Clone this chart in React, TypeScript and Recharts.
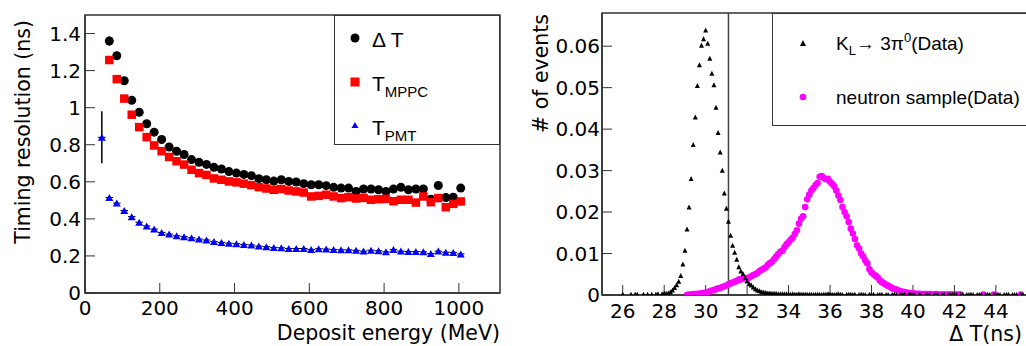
import React from "react";
import {
  ScatterChart,
  Scatter,
  XAxis,
  YAxis,
  ErrorBar,
  ReferenceArea,
  ReferenceLine,
  Legend,
  Label,
} from "recharts";

const FONT = "'Liberation Sans', Arial, Helvetica, sans-serif";
const AXIS_FONT = "'DejaVu Sans', 'Liberation Sans', Arial, sans-serif";

// left panel: timing resolution vs deposit energy, 20 MeV bins
const energies = [
  45, 65, 85, 105, 125, 145, 165, 185, 205, 225, 245, 265, 285, 305, 325, 345, 365, 385, 405, 425,
  445, 465, 485, 505, 525, 545, 565, 585, 605, 625, 645, 665, 685, 705, 725, 745, 765, 785, 805,
  825, 845, 865, 885, 905, 925, 945, 965, 985, 1005,
];
const dtRes = [
  null, 1.36, 1.28, 1.145, 1.04, 0.975, 0.913, 0.868, 0.828, 0.788, 0.765, 0.747, 0.72, 0.705, 0.694,
  0.678, 0.669, 0.655, 0.647, 0.64, 0.633, 0.617, 0.611, 0.604, 0.611, 0.602, 0.599, 0.59, 0.584,
  0.584, 0.579, 0.57, 0.566, 0.566, 0.548, 0.561, 0.561, 0.557, 0.548, 0.561, 0.57, 0.557, 0.561,
  0.561, 0.506, 0.58, 0.515, 0.517, 0.566,
];
const mppcRes = [
  null, 1.257, 1.154, 1.049, 0.962, 0.895, 0.841, 0.796, 0.765, 0.734, 0.711, 0.693, 0.665, 0.647,
  0.637, 0.618, 0.611, 0.602, 0.597, 0.59, 0.582, 0.571, 0.564, 0.557, 0.561, 0.553, 0.548, 0.542,
  0.521, 0.524, 0.53, 0.521, 0.512, 0.517, 0.51, 0.513, 0.503, 0.506, 0.508, 0.495, 0.503, 0.503,
  0.488, 0.521, 0.49, 0.512, 0.463, 0.481, 0.494,
];
const pmtRes = [
  0.84, 0.515, 0.485, 0.445, 0.412, 0.382, 0.362, 0.345, 0.327, 0.318, 0.309, 0.304, 0.298, 0.291,
  0.286, 0.278, 0.273, 0.269, 0.266, 0.262, 0.259, 0.253, 0.25, 0.246, 0.244, 0.24, 0.24, 0.24,
  0.235, 0.239, 0.237, 0.235, 0.233, 0.233, 0.23, 0.226, 0.231, 0.228, 0.222, 0.235, 0.226, 0.224,
  0.224, 0.222, 0.213, 0.226, 0.22, 0.219, 0.211,
];
// vertical errors of the first bins (later bins are hidden under the markers)
const dtErr = [0, 0.025, 0.015, 0.01];
const mppcErr = [0, 0.02, 0.012, 0.01];
const pmtErr = [0.14, 0.01, 0.008, 0.006];
const energyHalfBin = 10;

const xTicksL = [0, 200, 400, 600, 800, 1000];
const yTicksL = [0, 0.2, 0.4, 0.6, 0.8, 1, 1.2, 1.4];

// right panel: Delta T distributions, 0.1 ns bins
const binWidth = 0.1;
const klFirstBin = 25.0;
const klValues = [
  null, null, null, null, null, null, null, null, null, null,
  0.0002, null, null, null, 0.0002, null, 0.0002, 0.0002, null, null,
  0.0002, null, 0.0002, null, 0.0002, null, 0.0002, 0.0003, null, 0.0003,
  0.0004, 0.0004, 0.0005, 0.0008, 0.0012, 0.0018, 0.0025, 0.0033, 0.0047, 0.0075,
  0.0108, 0.0159, 0.0212, 0.0281, 0.0363, 0.0429, 0.0505, 0.0555, 0.0602, 0.0618,
  0.0639, 0.0607, 0.0571, 0.0535, 0.0507, 0.0453, 0.0392, 0.0345, 0.0301, 0.0246,
  0.0209, 0.0178, 0.0144, 0.012, 0.0103, 0.0086, 0.0068, 0.0058, 0.0052, 0.0042,
  0.0034, 0.0028, 0.0024, 0.0019, 0.0015, 0.0012, 0.001, 0.0008, 0.0007, 0.0006,
  0.0005, 0.0005, 0.0004, 0.0004, 0.0004, 0.0003, 0.0003, 0.0003, 0.0003, 0.0003,
  0.0003, 0.0002, 0.0003, 0.0002, 0.0002, 0.0003, 0.0002, 0.0002, 0.0002, 0.0002,
  0.0002, 0.0002, 0.0001, 0.0002, 0.0002, 0.0002, 0.0001, 0.0002, 0.0002, 0.0003,
  0.0002, 0.0002, 0.0001, 0.0002, 0.0003, 0.0002, 0.0001, null, 0.0002, 0.0002,
  0.0002, 0.0001, 0.0002, null, 0.0001, 0.0002, 0.0001, 0.0001, null, 0.0002,
  0.0001, 0.0002, null, 0.0001, 0.0001, 0.0002, null, 0.0001, 0.0001, null,
  0.0001, 0.0002, 0.0001, null, 0.0001, 0.0001, 0.0001, null, 0.0002, 0.0001,
  0.0001, 0.0001, null, 0.0002, 0.0001, null, 0.0001, 0.0001, 0.0001, null,
  0.0001, 0.0001, 0.0002, null, 0.0001, 0.0001, null, 0.0001, 0.0001, 0.0001,
  0.0002, 0.0001, null, 0.0001, 0.0001, null, 0.0001, 0.0001, 0.0002, 0.0001,
  null, 0.0001, 0.0001, 0.0001, null, 0.0001, 0.0002, 0.0001, null, 0.0001,
  0.0001, 0.0002, 0.0001, null, 0.0001, 0.0001, 0.0002, null, 0.0001, 0.0001,
  0.0001, null, 0.0001, 0.0001, null,
];
const neutronFirstBin = 29.0;
const neutronValues = [
  null, 0.0, 0.0001, 0.0001, 0.0002, 0.0002, 0.0003, 0.0003, 0.0004, 0.0005,
  0.0006, 0.0007, 0.0009, 0.0011, 0.0012, 0.0014, 0.0016, 0.0017, 0.0019, 0.0021,
  0.0023, 0.0026, 0.0028, 0.003, 0.0032, 0.0034, 0.0037, 0.0038, 0.0039, 0.004,
  0.0041, 0.0042, 0.0045, 0.0048, 0.005, 0.0053, 0.0058, 0.0061, 0.0064, 0.0067,
  0.0073, 0.0077, 0.008, 0.0086, 0.0093, 0.0099, 0.0104, 0.0107, 0.0115, 0.0122,
  0.0127, 0.0133, 0.0138, 0.0147, 0.0156, 0.0172, 0.0184, 0.019, 0.0212, 0.0231,
  0.0242, 0.0252, 0.0258, 0.0265, 0.027, 0.0285, 0.0287, 0.0282, 0.0279, 0.028,
  0.0273, 0.0268, 0.0262, 0.0252, 0.024, 0.0229, 0.0212, 0.02, 0.019, 0.0176,
  0.016, 0.0148, 0.0135, 0.012, 0.0112, 0.01, 0.0093, 0.0083, 0.0076, 0.0062,
  0.0054, 0.005, 0.0046, 0.0042, 0.0035, 0.0031, 0.0028, 0.0025, 0.0022, 0.002,
  0.0016, 0.0015, 0.0013, 0.0011, 0.0009, 0.0008, 0.0007, 0.0006, 0.0005, 0.0004,
  0.0004, 0.0003, 0.0003, 0.0003, 0.0002, 0.0002, 0.0002, 0.0002, 0.0002, 0.0001,
  0.0001, 0.0002, 0.0001, 0.0001, 0.0001, 0.0001, 0.0001, 0.0001, 0.0001, 0.0001,
  0.0001, 0.0001, 0.0001, 0.0001, null, null, null, null, null, null,
  null, null, null, null, 0.0001, null, null, null, null, 0.0001,
  null, null, null, null, null, null, null, null, null, null,
  null, null, 0.0001,
];
const cutLine = 31.1;

const xTicksR = [26, 28, 30, 32, 34, 36, 38, 40, 42, 44];
const yTicksR = [0, 0.01, 0.02, 0.03, 0.04, 0.05, 0.06];

// minor tick positions (axis decoration only)
const steps = (a: number, b: number, s: number) => {
  const out: number[] = [];
  for (let i = 0; a + i * s <= b + 1e-9; i++) out.push(+(a + i * s).toFixed(4));
  return out;
};
const xMinorL = steps(0, 1100, 50);
const yMinorL = steps(0, 1.5, 0.05);
const xMinorR = steps(25, 45.5, 0.5);
const yMinorR = steps(0, 0.068, 0.002);

const resRows = (vals: (number | null)[], errs: number[]) =>
  energies
    .map((e, i) => ({ e, v: vals[i], ex: energyHalfBin, ey: errs[i] ?? 0.004 }))
    .filter((d) => d.v != null);

const histRows = (first: number, vals: (number | null)[]) =>
  vals
    .map((v, i) => ({ t: +(first + i * binWidth).toFixed(2), v }))
    .filter((d) => d.v != null);

const circle = (r: number, fill: string) => (p: any) =>
  <circle cx={p.cx} cy={p.cy} r={r} fill={fill} />;
const square = (s: number, fill: string) => (p: any) =>
  <rect x={p.cx - s / 2} y={p.cy - s / 2} width={s} height={s} fill={fill} />;
const triangle = (w: number, h: number, fill: string) => (p: any) => (
  <polygon
    points={`${p.cx - w / 2},${p.cy + h / 2} ${p.cx + w / 2},${p.cy + h / 2} ${p.cx},${p.cy - h / 2}`}
    fill={fill}
  />
);

const axisStroke = "#333";
const tickFont = { fontSize: 20, fill: "#000", fontFamily: AXIS_FONT };
const titleSize = 20.5;

const LeftLegend = () => (
  <svg width={166} height={130} style={{ display: "block" }}>
    <rect x={0.5} y={0.5} width={165} height={129} fill="#fff" stroke={axisStroke} />
    <g fontFamily={FONT} fill="#000">
      <circle cx={21} cy={23} r={4.5} fill="#000" />
      <text x={38} y={32} fontSize={21}>Δ T</text>
      <rect x={16.5} y={62.5} width={9} height={9} fill="#ff0000" />
      <text x={38} y={76} fontSize={21}>
        T<tspan dy={6} fontSize={15}>MPPC</tspan>
      </text>
      <polygon points="17.5,113 24.5,113 21,107" fill="#0000ff" />
      <text x={38} y={120} fontSize={21}>
        T<tspan dy={6} fontSize={15}>PMT</tspan>
      </text>
    </g>
  </svg>
);

const RightLegend = () => (
  <svg width={270} height={113} style={{ display: "block" }}>
    <rect x={0.5} y={0.5} width={275} height={112} fill="#fff" stroke={axisStroke} />
    <g fontFamily={FONT} fill="#000">
      <polygon points="28,33 34,33 31,27" fill="#000" />
      <text x={64} y={37} fontSize={19}>
        K<tspan dy={5} fontSize={13}>L</tspan>
        <tspan dy={-5}>→ 3π</tspan>
        <tspan dy={-8} fontSize={13}>0</tspan>
        <tspan dy={8}>(Data)</tspan>
      </text>
      <circle cx={31} cy={84} r={3.3} fill="#ff00ff" />
      <text x={64} y={91} fontSize={19}>neutron sample(Data)</text>
    </g>
  </svg>
);

const App = () => {
  const dtRows = resRows(dtRes, dtErr);
  const mppcRows = resRows(mppcRes, mppcErr);
  const pmtRows = resRows(pmtRes, pmtErr);
  const klRows = histRows(klFirstBin, klValues);
  const neutronRows = histRows(neutronFirstBin, neutronValues);

  return (
    <div style={{ position: "absolute", left: 0, top: 0, width: 1026, height: 346, background: "#fff", overflow: "hidden" }}>
      <div style={{ position: "absolute", left: 0, top: 0 }}>
        <ScatterChart width={510} height={346} margin={{ top: 15, right: 10, bottom: 0, left: 0 }}>
          <XAxis xAxisId="minor" type="number" domain={[0, 1110]} ticks={xMinorL} tick={false}
            tickSize={-5} tickLine={{ stroke: axisStroke }} axisLine={false} height={0} interval={0} allowDataOverflow />
          <YAxis yAxisId="minor" type="number" domain={[0, 1.5]} ticks={yMinorL} tick={false}
            tickSize={-5} tickLine={{ stroke: axisStroke }} axisLine={false} width={0} interval={0} allowDataOverflow />
          <XAxis type="number" dataKey="e" domain={[0, 1110]} ticks={xTicksL} interval={0} allowDataOverflow
            height={53} tickSize={-10} tickMargin={18} tick={tickFont}
            tickLine={{ stroke: axisStroke }} axisLine={{ stroke: axisStroke, strokeWidth: 1.5 }}>
            <Label content={({ viewBox }: any) => (
              <text x={viewBox.x + viewBox.width} y={viewBox.y + 47} textAnchor="end" fontSize={titleSize} fontFamily={AXIS_FONT} fill="#000">
                Deposit energy (MeV)
              </text>
            )} />
          </XAxis>
          <YAxis type="number" dataKey="v" domain={[0, 1.5]} ticks={yTicksL} interval={0} allowDataOverflow
            width={85} tickSize={-10} tickMargin={14} tick={tickFont}
            tickLine={{ stroke: axisStroke }} axisLine={{ stroke: axisStroke, strokeWidth: 1.5 }}>
            <Label content={({ viewBox }: any) => (
              <text x={viewBox.x + 30} y={viewBox.y + 5} transform={`rotate(-90, ${viewBox.x + 30}, ${viewBox.y + 5})`}
                textAnchor="end" fontSize={titleSize} fontFamily={AXIS_FONT} fill="#000">
                Timing resolution (ns)
              </text>
            )} />
          </YAxis>
          <ReferenceArea x1={0} x2={1110} y1={0} y2={1.5} fill="none" stroke={axisStroke} strokeWidth={1.5} />
          <Scatter name="ΔT" data={dtRows} dataKey="v" fill="#000" shape={circle(4.5, "#000")} isAnimationActive={false}>
            <ErrorBar dataKey="ex" direction="x" width={0} stroke="#000" strokeWidth={1} />
            <ErrorBar dataKey="ey" direction="y" width={0} stroke="#000" strokeWidth={1.5} />
          </Scatter>
          <Scatter name="T_MPPC" data={mppcRows} dataKey="v" fill="#ff0000" shape={square(8.5, "#ff0000")} isAnimationActive={false}>
            <ErrorBar dataKey="ex" direction="x" width={0} stroke="#000" strokeWidth={1} />
            <ErrorBar dataKey="ey" direction="y" width={0} stroke="#000" strokeWidth={1.5} />
          </Scatter>
          <Scatter name="T_PMT" data={pmtRows} dataKey="v" fill="#0000ff" shape={triangle(8, 7, "#0000ff")} isAnimationActive={false}>
            <ErrorBar dataKey="ex" direction="x" width={0} stroke="#000" strokeWidth={1} />
            <ErrorBar dataKey="ey" direction="y" width={0} stroke="#000" strokeWidth={1.5} />
          </Scatter>
          <Legend layout="vertical" align="center" verticalAlign="middle"
            wrapperStyle={{ left: 334, top: 15, width: 166, height: 130 }} content={() => <LeftLegend />} />
        </ScatterChart>
      </div>

      <div style={{ position: "absolute", left: 510, top: 0 }}>
        <ScatterChart width={517} height={346} margin={{ top: 13, right: 0, bottom: 0, left: 0 }}>
          <XAxis xAxisId="minor" type="number" domain={[25, 45.5]} ticks={xMinorR} tick={false}
            tickSize={-5} tickLine={{ stroke: axisStroke }} axisLine={false} height={0} interval={0} allowDataOverflow />
          <YAxis yAxisId="minor" type="number" domain={[0, 0.068]} ticks={yMinorR} tick={false}
            tickSize={-5} tickLine={{ stroke: axisStroke }} axisLine={false} width={0} interval={0} allowDataOverflow />
          <XAxis type="number" dataKey="t" domain={[25, 45.5]} ticks={xTicksR} interval={0} allowDataOverflow
            height={51} tickSize={-10} tickMargin={19} tick={tickFont}
            tickLine={{ stroke: axisStroke }} axisLine={{ stroke: axisStroke, strokeWidth: 1.5 }}>
            <Label content={({ viewBox }: any) => (
              <text x={viewBox.x + viewBox.width - 5} y={viewBox.y + 46} textAnchor="end" fontSize={titleSize} fontFamily={AXIS_FONT} fill="#000">
                Δ T(ns)
              </text>
            )} />
          </XAxis>
          <YAxis type="number" dataKey="v" domain={[0, 0.068]} ticks={yTicksR} interval={0} allowDataOverflow
            width={92} tickSize={-10} tickMargin={12} tick={tickFont}
            tickLine={{ stroke: axisStroke }} axisLine={{ stroke: axisStroke, strokeWidth: 1.5 }}>
            <Label content={({ viewBox }: any) => (
              <text x={viewBox.x + 38} y={viewBox.y + 1} transform={`rotate(-90, ${viewBox.x + 38}, ${viewBox.y + 1})`}
                textAnchor="end" fontSize={titleSize} fontFamily={AXIS_FONT} fill="#000">
                # of events
              </text>
            )} />
          </YAxis>
          <ReferenceArea x1={25} x2={45.5} y1={0} y2={0.068} fill="none" stroke={axisStroke} strokeWidth={1.5} />
          <ReferenceLine x={cutLine} stroke="#444" strokeWidth={1.5} />
          <Scatter name="neutron sample(Data)" data={neutronRows} dataKey="v" fill="#ff00ff"
            shape={circle(3.3, "#ff00ff")} isAnimationActive={false} />
          <Scatter name="KL→3π0(Data)" data={klRows} dataKey="v" fill="#000"
            shape={triangle(5, 5, "#000")} isAnimationActive={false} />
          <Legend layout="vertical" align="center" verticalAlign="middle"
            wrapperStyle={{ left: 262, top: 13, width: 270, height: 113 }} content={() => <RightLegend />} />
        </ScatterChart>
      </div>
    </div>
  );
};

export default App;
